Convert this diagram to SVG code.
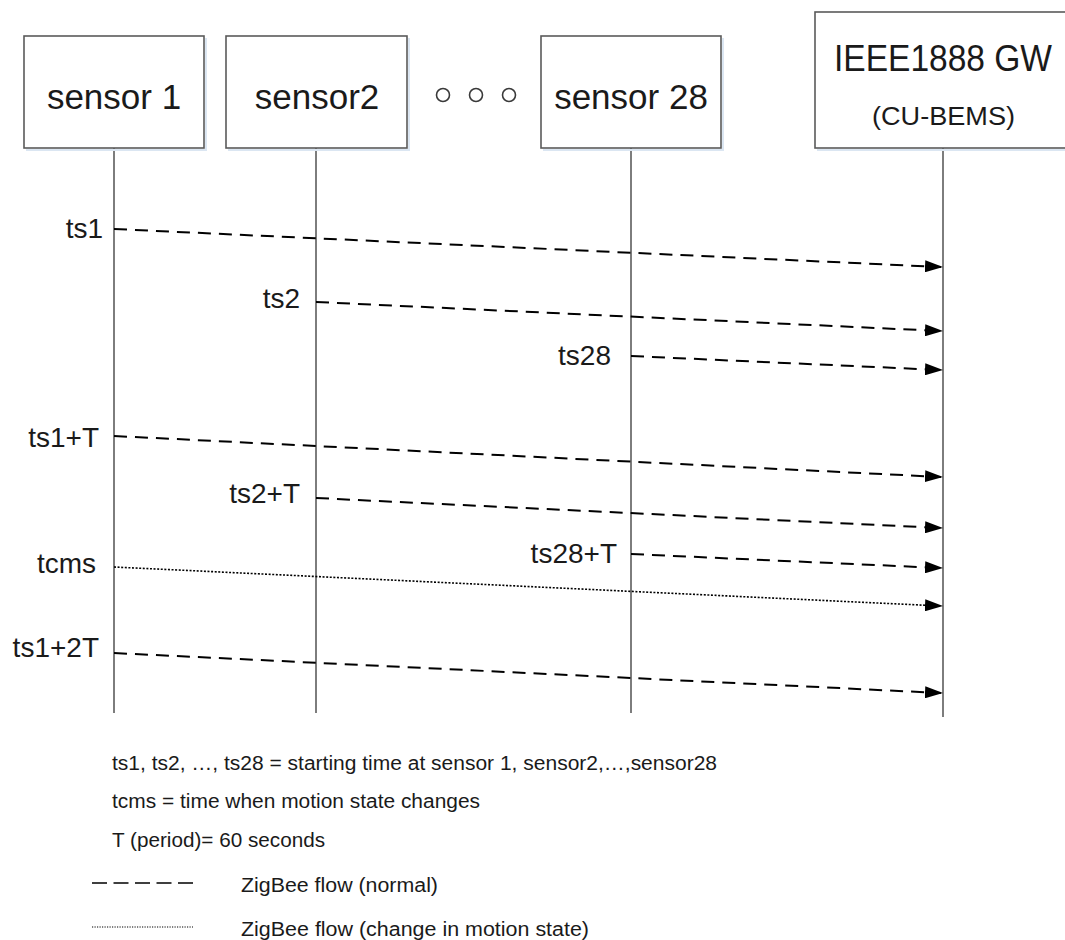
<svg xmlns="http://www.w3.org/2000/svg" width="1065" height="940" viewBox="0 0 1065 940">
<style>
.box{fill:#ffffff;stroke:#5a5a5a;stroke-width:1.6}
.shadow{fill:none;stroke:#dbe6f2;stroke-width:2}
.life{stroke:#7d7d7d;stroke-width:2;fill:none}
.flow{stroke:#000;stroke-width:2;stroke-dasharray:13 8;fill:none}
.dot{stroke:#000;stroke-width:1.6;stroke-dasharray:2 1.6;fill:none}
.t{font-family:"Liberation Sans",Arial,sans-serif;fill:#1a1a1a}
.nm{font-size:35px;text-anchor:middle}
.lb{font-size:28px;text-anchor:end}
.lg{font-size:20px}
.circ{fill:#fff;stroke:#3a3a3a;stroke-width:1.6}
</style>
<defs>
<marker id="ah" markerUnits="userSpaceOnUse" markerWidth="18" markerHeight="12" refX="16" refY="6" orient="auto">
<path d="M0,0 L18,6 L0,12 z" fill="#000"/>
</marker>
</defs>
<rect width="1065" height="940" fill="#ffffff"/>

<g id="lifelines">
<line class="life" x1="114" y1="148" x2="114" y2="713"/>
<line class="life" x1="316" y1="148" x2="316" y2="713"/>
<line class="life" x1="631" y1="148" x2="631" y2="713"/>
<line class="life" x1="943" y1="148" x2="943" y2="717"/>
</g>

<g id="sensor1">
<polyline class="shadow" points="26,150 206,150 206,38"/>
<rect class="box" x="24" y="36" width="180" height="112"/>
<text class="t nm" x="114" y="109">sensor 1</text>
</g>
<g id="sensor2">
<polyline class="shadow" points="228,150 409,150 409,38"/>
<rect class="box" x="226" y="36" width="181" height="112"/>
<text class="t nm" x="317" y="109">sensor2</text>
</g>
<g id="ellipsis">
<circle class="circ" cx="443" cy="95" r="6.5"/>
<circle class="circ" cx="476" cy="95" r="6.5"/>
<circle class="circ" cx="509" cy="95" r="6.5"/>
</g>
<g id="sensor28">
<polyline class="shadow" points="543,150 723,150 723,38"/>
<rect class="box" x="541" y="36" width="180" height="112"/>
<text class="t nm" x="631" y="109">sensor 28</text>
</g>
<g id="gateway">
<polyline class="shadow" points="817,150 1070,150"/>
<rect class="box" x="815" y="12" width="260" height="136"/>
<text class="t" x="834" y="71" font-size="36" textLength="218" lengthAdjust="spacingAndGlyphs">IEEE1888 GW</text>
<text class="t" x="872" y="125" font-size="25" textLength="143" lengthAdjust="spacingAndGlyphs">(CU-BEMS)</text>
</g>

<g id="connectors">
<line class="flow" x1="114" y1="229" x2="941" y2="267" marker-end="url(#ah)"/>
<line class="flow" x1="316" y1="302" x2="941" y2="331" marker-end="url(#ah)"/>
<line class="flow" x1="631" y1="356" x2="941" y2="370" marker-end="url(#ah)"/>
<line class="flow" x1="114" y1="436" x2="941" y2="477" marker-end="url(#ah)"/>
<line class="flow" x1="316" y1="498" x2="941" y2="528" marker-end="url(#ah)"/>
<line class="flow" x1="631" y1="554" x2="941" y2="568" marker-end="url(#ah)"/>
<line class="dot" x1="114" y1="567" x2="941" y2="606" marker-end="url(#ah)"/>
<line class="flow" x1="114" y1="653" x2="941" y2="693" marker-end="url(#ah)"/>
</g>

<g id="time-labels">
<text class="t lb" x="103" y="238">ts1</text>
<text class="t lb" x="300" y="308">ts2</text>
<text class="t lb" x="611" y="365">ts28</text>
<text class="t lb" x="99" y="447">ts1+T</text>
<text class="t lb" x="300" y="503">ts2+T</text>
<text class="t lb" x="617" y="563">ts28+T</text>
<text class="t lb" x="96" y="573">tcms</text>
<text class="t lb" x="99" y="657">ts1+2T</text>
</g>

<g id="legend">
<text class="t lg" x="112" y="770" textLength="605" lengthAdjust="spacingAndGlyphs">ts1, ts2, …, ts28 = starting time at sensor 1, sensor2,…,sensor28</text>
<text class="t lg" x="112" y="808" textLength="368" lengthAdjust="spacingAndGlyphs">tcms = time when motion state changes</text>
<text class="t lg" x="112" y="847" textLength="213" lengthAdjust="spacingAndGlyphs">T (period)= 60 seconds</text>
<line x1="92" y1="883" x2="193" y2="883" stroke="#000" stroke-width="1.6" stroke-dasharray="15 6.5"/>
<text class="t lg" x="241" y="892" textLength="197" lengthAdjust="spacingAndGlyphs">ZigBee flow (normal)</text>
<line x1="92" y1="927" x2="193" y2="927" stroke="#000" stroke-width="1.2" stroke-dasharray="1.2 1.3"/>
<text class="t lg" x="241" y="936" textLength="348" lengthAdjust="spacingAndGlyphs">ZigBee flow (change in motion state)</text>
</g>
</svg>
